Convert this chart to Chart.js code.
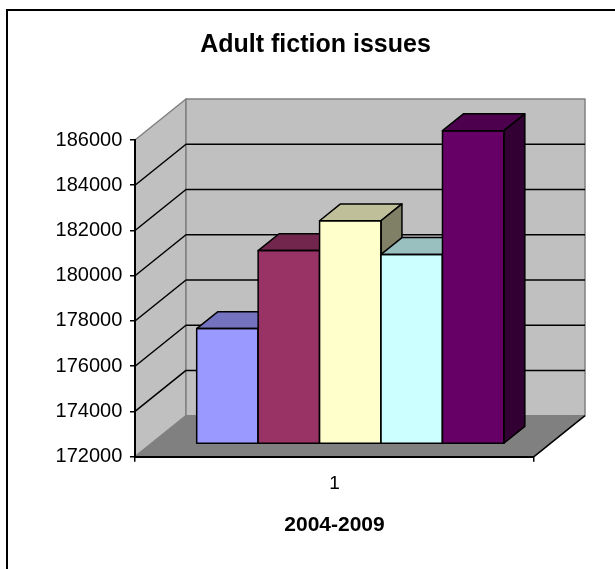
<!DOCTYPE html>
<html>
<head>
<meta charset="utf-8">
<title>Adult fiction issues</title>
<script src="https://cdn.jsdelivr.net/npm/chart.js@4.4.1/dist/chart.umd.min.js"></script>
<style>
  html, body { margin: 0; padding: 0; background: #fff; overflow: hidden; }
  canvas { position: absolute; left: 0; top: 0; }
  #frame { position: absolute; left: 6px; top: 9px; width: 700px; height: 700px; border: 2px solid #000; pointer-events: none; }
</style>
</head>
<body>
<canvas id="issuesChart" width="615" height="569"></canvas>
<div id="frame"></div>
<script>
const categories = ['1'];
const seriesNames = ['2004/05', '2005/06', '2006/07', '2007/08', '2008/09'];
const issues = [177100, 180550, 181870, 180380, 185850];
const yTicks = [172000, 174000, 176000, 178000, 180000, 182000, 184000, 186000];
const barColors = ['#9999FF', '#993366', '#FFFFCC', '#CCFFFF', '#660066'];

const FONT = '"Liberation Sans", Arial, Helvetica, sans-serif';

// oblique 3D look: how far the walls recede, and where the bars sit in that depth
const depth = { x: 51, y: 41 };
const barFront = 0.31;
const barDepth = 0.41;

function shade(hex, k) {
  const n = parseInt(hex.slice(1), 16);
  const r = Math.round((n >> 16 & 255) * k);
  const g = Math.round((n >> 8 & 255) * k);
  const b = Math.round((n & 255) * k);
  return `rgb(${r}, ${g}, ${b})`;
}

function poly(ctx, pts, fill, stroke, width) {
  ctx.beginPath();
  pts.forEach(([x, y], i) => i ? ctx.lineTo(x, y) : ctx.moveTo(x, y));
  ctx.closePath();
  if (fill) { ctx.fillStyle = fill; ctx.fill(); }
  if (stroke) { ctx.strokeStyle = stroke; ctx.lineWidth = width || 1; ctx.stroke(); }
}

const box3d = {
  id: 'box3d',
  // walls, floor and the receding gridlines go under the axes
  beforeDraw(chart) {
    const { ctx, chartArea: { left, right }, scales: { y } } = chart;
    const top = y.getPixelForValue(y.max);
    const bottom = y.getPixelForValue(y.min);
    const dx = depth.x, dy = depth.y;
    ctx.save();
    ctx.lineJoin = 'round';
    poly(ctx, [[left, top], [left + dx, top - dy], [left + dx, bottom - dy], [left, bottom]], '#C0C0C0', '#808080', 1.5);
    poly(ctx, [[left + dx, top - dy], [right + dx, top - dy], [right + dx, bottom - dy], [left + dx, bottom - dy]], '#C0C0C0', '#808080', 1.5);
    poly(ctx, [[left, bottom], [right, bottom], [right + dx, bottom - dy], [left + dx, bottom - dy]], '#808080');

    ctx.strokeStyle = '#000';
    ctx.lineWidth = 1.5;
    y.ticks.forEach(t => {
      if (t.value === y.min || t.value === y.max) return;
      const py = y.getPixelForValue(t.value);
      ctx.beginPath();
      ctx.moveTo(left, py);
      ctx.lineTo(left + dx, py - dy);
      ctx.lineTo(right + dx, py - dy);
      ctx.stroke();
    });
    ctx.beginPath();
    ctx.moveTo(right, bottom);
    ctx.lineTo(right + dx, bottom - dy);
    ctx.stroke();
    ctx.restore();
  },
  // bars drawn left to right so each front face hides the side of its neighbour
  beforeDatasetsDraw(chart) {
    const { ctx } = chart;
    const ox = depth.x * barFront, oy = depth.y * barFront;
    const bx = depth.x * barDepth, by = depth.y * barDepth;
    ctx.save();
    ctx.lineJoin = 'round';
    chart.data.datasets.forEach((ds, i) => {
      const bar = chart.getDatasetMeta(i).data[0];
      const l = bar.x - bar.width / 2 + ox;
      const r = bar.x + bar.width / 2 + ox;
      const t = bar.y - oy;
      const b = bar.base - oy;
      ctx.save();
      ctx.translate(ox, -oy);
      bar.draw(ctx);
      ctx.restore();
      poly(ctx, [[l, t], [r, t], [r + bx, t - by], [l + bx, t - by]], shade(ds.backgroundColor, 0.75), '#000', 1.5);
      poly(ctx, [[r, t], [r + bx, t - by], [r + bx, b - by], [r, b]], shade(ds.backgroundColor, 0.5), '#000', 1.5);
      ctx.strokeStyle = '#000';
      ctx.lineWidth = 1.5;
      ctx.strokeRect(l, t, r - l, b - t);
    });
    ctx.restore();
    return false;
  }
};

new Chart(document.getElementById('issuesChart'), {
  type: 'bar',
  data: {
    labels: categories,
    datasets: issues.map((v, i) => ({
      label: seriesNames[i],
      data: [v],
      base: yTicks[0],
      yAxisID: 'y',
      backgroundColor: barColors[i],
      borderColor: '#000',
      borderWidth: 0,
      categoryPercentage: 0.77,
      barPercentage: 1
    }))
  },
  options: {
    responsive: false,
    animation: false,
    layout: { padding: { left: 16, right: 0, top: 0, bottom: 0 } },
    plugins: {
      legend: { display: false },
      tooltip: { enabled: false },
      title: {
        display: true,
        text: 'Adult fiction issues',
        color: '#000',
        font: { family: FONT, size: 25, weight: 'bold' },
        padding: { top: 30.5, bottom: 79.5 }
      }
    },
    scales: {
      x: {
        grid: { offset: true, drawOnChartArea: false, color: '#000', lineWidth: 1.5, tickLength: 5 },
        border: { color: '#000', width: 2 },
        ticks: { color: '#000', font: { family: FONT, size: 19 }, padding: 10.4 },
        title: {
          display: true,
          text: '2004-2009',
          color: '#000',
          font: { family: FONT, size: 21, weight: 'bold' },
          padding: { top: 7.1, bottom: 31.4 }
        }
      },
      y: {
        min: yTicks[0],
        max: yTicks[yTicks.length - 1],
        ticks: {
          stepSize: yTicks[1] - yTicks[0],
          color: '#000',
          font: { family: FONT, size: 20 },
          padding: 7.7,
          callback: v => String(v)
        },
        grid: { drawOnChartArea: false, color: '#000', lineWidth: 1.5, tickLength: 5 },
        border: { color: '#000', width: 2 },
        afterFit: s => { s.width = 119; }
      },
      // empty axis that keeps room on the right for the receding back wall
      depth: {
        type: 'linear',
        position: 'right',
        ticks: { display: false },
        grid: { display: false },
        border: { display: false },
        afterFit: s => { s.width = 81; }
      }
    }
  },
  plugins: [box3d]
});
</script>
</body>
</html>
